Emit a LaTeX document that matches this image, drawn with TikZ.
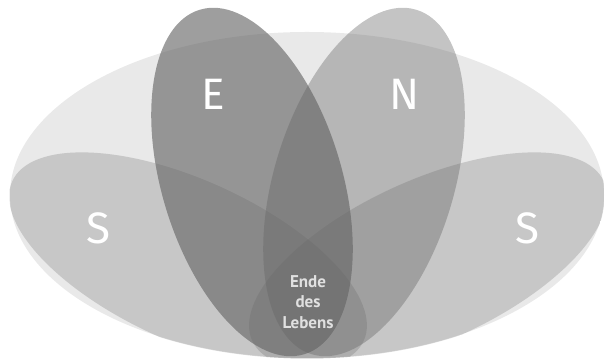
\documentclass[tikz,border=0pt]{standalone}
\usepackage{fontspec}
\setmainfont{Fira Sans}
\newfontfamily\dropfont{PT Sans}
\definecolor{bigc}{gray}{0.914}
\definecolor{ink}{gray}{0.39}
\definecolor{dropc}{gray}{0.88}
\tikzset{
  sset/.style={fill=ink, fill opacity=0.25},
  eset/.style={fill=ink, fill opacity=0.62},
  nset/.style={fill=ink, fill opacity=0.38},
  biglabel/.style={text=white, font=\fontsize{44}{44}\selectfont, inner sep=0pt},
  droplabel/.style={text=dropc, align=center, inner sep=0pt,
    font=\dropfont\bfseries\fontsize{17}{20.3}\selectfont}
}
\begin{document}
\begin{tikzpicture}[x=1pt,y=1pt]
\useasboundingbox (0,0) rectangle (605,363);
% background ellipse
\fill[bigc] (307,168) ellipse [x radius=297, y radius=163];
% S ellipses, kept inside the background ellipse
\begin{scope}
  \clip (307,168) ellipse [x radius=297.5, y radius=163.5];
  \fill[sset, rotate around={-24.4:(188,102)}] (188,102) ellipse [x radius=193, y radius=81];
  \fill[sset, rotate around={24.4:(428,102)}] (428,102) ellipse [x radius=193, y radius=81];
\end{scope}
% E
\fill[eset, rotate around={16.9:(252,181)}] (252,181) ellipse [x radius=90, y radius=180];
% N
\fill[nset, rotate around={-16.9:(364,181)}] (364,181) ellipse [x radius=90, y radius=180];
% labels
\node[biglabel] (lE) at (213,269) {E};
\node[biglabel] (lN) at (405,269) {N};
\node[biglabel] (lS1) at (98,135) {S};
\node[biglabel] (lS2) at (527,135) {S};
\node[droplabel] (lend) at (308,61) {Ende\\des\\Lebens};
\end{tikzpicture}
\end{document}
